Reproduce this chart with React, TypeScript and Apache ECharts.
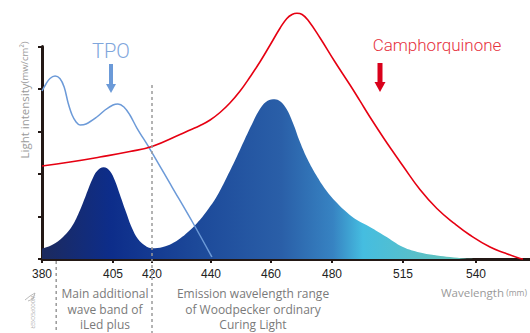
import React, { useEffect, useRef } from "react";
import * as echarts from "echarts";

// ---- data (wavelength in nm, light intensity in relative units) ----
const tickLabels = [380, 405, 420, 440, 460, 480, 515, 540];
// position of each tick label along the (non-linear) wavelength axis, axis units
const tickSlots = [0, 71, 110, 169, 229, 290, 361, 434];
const axisEnd = 488;

// LED emission spectrum (filled)
const ledWl = [380.0, 383.5, 387.4, 390.6, 393.4, 395.5, 397.6, 399.4, 401.7, 403.9, 405.8, 407.7, 410.0, 412.3, 414.6, 417.3, 420.0, 423.7, 426.8, 429.5, 432.2, 435.3, 438.6, 442.0, 445.3, 448.7, 451.3, 454.0, 456.3, 458.3, 460.7, 462.6, 464.9, 467.2, 469.5, 472.1, 474.8, 478.0, 482.5, 487.4, 492.3, 498.7, 506.1, 515.0, 520.8, 526.6, 531.1, 536.2, 540.7];
const ledVal = [0.247, 0.329, 0.518, 0.776, 1.153, 1.506, 1.859, 2.071, 2.158, 2.071, 1.835, 1.506, 1.106, 0.729, 0.471, 0.318, 0.252, 0.282, 0.365, 0.482, 0.635, 0.847, 1.129, 1.482, 1.929, 2.424, 2.824, 3.224, 3.529, 3.694, 3.758, 3.729, 3.553, 3.2, 2.753, 2.329, 1.976, 1.624, 1.318, 1.094, 0.918, 0.753, 0.541, 0.282, 0.153, 0.082, 0.047, 0.012, 0.0];

// Camphorquinone absorption (red)
const cqWl = [380.0, 389.9, 400.4, 411.5, 420.0, 429.5, 432.9, 436.3, 439.7, 443.0, 446.3, 449.7, 453.0, 456.3, 459.7, 463.0, 465.2, 466.9, 468.5, 470.2, 472.1, 476.1, 481.5, 488.9, 493.8, 498.7, 506.1, 510.6, 515.0, 520.8, 526.6, 532.8, 537.9, 544.8, 549.9, 555.1, 556.1];
const cqVal = [2.188, 2.282, 2.4, 2.529, 2.647, 2.929, 3.035, 3.141, 3.271, 3.447, 3.671, 3.953, 4.282, 4.635, 5.035, 5.435, 5.659, 5.753, 5.781, 5.753, 5.624, 5.2, 4.635, 4.094, 3.72, 3.341, 2.8, 2.49, 2.188, 1.635, 1.188, 0.824, 0.565, 0.282, 0.141, 0.012, 0.0];

// TPO absorption (light blue)
const tpoWl = [380.0, 381.4, 382.8, 384.6, 386.3, 387.8, 389.2, 390.6, 392.0, 393.4, 395.5, 399.3, 402.2, 405.0, 406.9, 409.2, 411.5, 414.2, 419.2, 426.8, 433.9, 440.3];
const tpoVal = [3.953, 4.118, 4.247, 4.306, 4.247, 4.047, 3.671, 3.388, 3.224, 3.153, 3.176, 3.341, 3.506, 3.624, 3.647, 3.576, 3.388, 3.082, 2.588, 1.694, 0.847, 0.047];

const dashedMarks = [385, 420];

function warp(w: number): number {
  const n = tickLabels.length;
  if (w <= tickLabels[0]) {
    const s = (tickSlots[1] - tickSlots[0]) / (tickLabels[1] - tickLabels[0]);
    return tickSlots[0] + (w - tickLabels[0]) * s;
  }
  for (let i = 0; i < n - 1; i++) {
    if (w <= tickLabels[i + 1]) {
      const s = (tickSlots[i + 1] - tickSlots[i]) / (tickLabels[i + 1] - tickLabels[i]);
      return tickSlots[i] + (w - tickLabels[i]) * s;
    }
  }
  const s = (tickSlots[n - 1] - tickSlots[n - 2]) / (tickLabels[n - 1] - tickLabels[n - 2]);
  return tickSlots[n - 1] + (w - tickLabels[n - 1]) * s;
}

const pts = (wl: number[], v: number[]) => wl.map((w, i) => [warp(w), v[i]]);

export default function App() {
  const ref = useRef<HTMLDivElement>(null);
  useEffect(() => {
    document.body.style.margin = "0";
    if (!ref.current) return;
    const chart = echarts.init(ref.current, undefined, { renderer: "svg" });
    const axisColor = "#231815";
    chart.setOption({
      animation: false,
      backgroundColor: "#ffffff",
      grid: { left: 42, right: 0, top: 46.5, bottom: 74 },
      xAxis: {
        type: "value",
        min: 0,
        max: axisEnd,
        axisLine: { show: true, lineStyle: { color: axisColor, width: 3 } },
        axisTick: {
          show: true,
          customValues: tickSlots,
          length: 4,
          lineStyle: { color: axisColor, width: 2 },
        },
        axisLabel: {
          customValues: tickSlots,
          color: "#222",
          fontSize: 12,
          fontFamily: "Liberation Sans",
          margin: 9,
          formatter: (v: number) => {
            const i = tickSlots.findIndex((s) => Math.abs(s - v) < 0.01);
            return i >= 0 ? String(tickLabels[i]) : "";
          },
        },
        splitLine: { show: false },
      },
      yAxis: {
        type: "value",
        min: 0,
        max: 5,
        interval: 1,
        axisLine: { show: true, lineStyle: { color: axisColor, width: 3 } },
        axisTick: { show: true, length: 4, lineStyle: { color: axisColor, width: 2 } },
        axisLabel: { show: false },
        splitLine: { show: false },
      },
      series: [
        {
          type: "line",
          data: pts(ledWl, ledVal),
          smooth: 0.4,
          symbol: "none",
          lineStyle: { width: 0 },
          areaStyle: {
            opacity: 1,
            color: {
              type: "linear",
              x: 42,
              y: 0,
              x2: 470,
              y2: 0,
              global: true,
              colorStops: [
                { offset: 0, color: "#1c2a5e" },
                { offset: 0.16, color: "#0d2d8a" },
                { offset: 0.37, color: "#1d4a9a" },
                { offset: 0.56, color: "#2a5fa8" },
                { offset: 0.68, color: "#3783c2" },
                { offset: 0.75, color: "#45bde0" },
                { offset: 0.88, color: "#5ac0c8" },
                { offset: 1, color: "#62c2b6" },
              ],
            },
          },
          z: 1,
        },
        {
          type: "line",
          data: pts(tpoWl, tpoVal),
          smooth: 0.35,
          symbol: "none",
          clip: false,
          lineStyle: { color: "#6c9ad8", width: 1.5 },
          z: 3,
        },
        {
          type: "line",
          data: pts(cqWl, cqVal),
          smooth: 0.45,
          symbol: "none",
          clip: false,
          lineStyle: { color: "#e60012", width: 1.6 },
          z: 3,
        },
      ],
    });

    const px = (w: number) => chart.convertToPixel({ xAxisIndex: 0 }, warp(w)) as number;
    const py = (v: number) => chart.convertToPixel({ yAxisIndex: 0 }, v) as number;
    const x385 = px(dashedMarks[0]);
    const x420 = px(dashedMarks[1]);
    const xTpo = px(405);
    const gray = "#7a7a7a";
    const annFont = "Open Sans";

    chart.setOption({
      graphic: [
        {
          type: "line",
          shape: { x1: x385, y1: py(0) + 2, x2: x385, y2: 333 },
          style: { stroke: "#9a9a9a", lineWidth: 1.5, lineDash: [3, 3] },
          z: 5,
        },
        {
          type: "line",
          shape: { x1: x420, y1: 85, x2: x420, y2: 333 },
          style: { stroke: "#9a9a9a", lineWidth: 1.5, lineDash: [3, 3] },
          z: 5,
        },
        {
          type: "text",
          x: xTpo - 2,
          y: 51,
          style: {
            text: "TPO",
            fontSize: 20,
            fontFamily: "Roboto",
            fontWeight: 300,
            fill: "#7fa6dc",
            align: "center",
            verticalAlign: "middle",
          },
        },
        {
          type: "rect",
          shape: { x: xTpo - 4, y: 64, width: 4, height: 22 },
          style: { fill: "#6b9ad8" },
        },
        {
          type: "polygon",
          shape: { points: [[xTpo - 7, 84], [xTpo + 3, 84], [xTpo - 2, 93]] },
          style: { fill: "#6b9ad8" },
        },
        {
          type: "text",
          x: 437,
          y: 45,
          style: {
            text: "Camphorquinone",
            fontSize: 17,
            fontFamily: "Roboto",
            fontWeight: 300,
            fill: "#e63340",
            align: "center",
            verticalAlign: "middle",
          },
        },
        {
          type: "rect",
          shape: { x: 377.5, y: 63, width: 5, height: 21 },
          style: { fill: "#d9001b" },
        },
        {
          type: "polygon",
          shape: { points: [[374.5, 82], [385.5, 82], [380, 92]] },
          style: { fill: "#d9001b" },
        },
        {
          type: "text",
          x: 24,
          y: 100,
          rotation: Math.PI / 2,
          style: {
            text: "{a|Light intensity}{b|(mw/cm²)}",
            rich: {
              a: { fontSize: 11.5, fontFamily: annFont, fill: "#9a9a9a" },
              b: { fontSize: 9.5, fontFamily: annFont, fill: "#9a9a9a" },
            },
            align: "center",
            verticalAlign: "middle",
          },
        },
        {
          type: "text",
          x: 441,
          y: 292,
          style: {
            text: "{a|Wavelength}{b| (mm)}",
            rich: {
              a: { fontSize: 11.5, fontFamily: annFont, fill: "#9a9a9a" },
              b: { fontSize: 8.5, fontFamily: annFont, fill: "#9a9a9a" },
            },
            align: "left",
            verticalAlign: "middle",
          },
        },
        {
          type: "text",
          x: 105,
          y: 309,
          style: {
            text: "Main additional\nwave band of\niLed plus",
            fontSize: 12,
            lineHeight: 15.5,
            fontFamily: annFont,
            fill: gray,
            align: "center",
            verticalAlign: "middle",
          },
        },
        {
          type: "text",
          x: 253,
          y: 309,
          style: {
            text: "Emission wavelength range\nof Woodpecker ordinary\nCuring Light",
            fontSize: 12,
            lineHeight: 15.5,
            fontFamily: annFont,
            fill: gray,
            align: "center",
            verticalAlign: "middle",
          },
        },
        {
          type: "text",
          x: 32,
          y: 312,
          rotation: -Math.PI / 2,
          style: {
            text: "WOODPECKER",
            fontSize: 4.5,
            fontFamily: "Liberation Sans",
            fill: "#aaaaaa",
            align: "center",
            verticalAlign: "middle",
          },
        },
        {
          type: "polyline",
          shape: { points: [[25, 300], [30, 296], [35, 293], [33, 299], [28, 301]] },
          style: { stroke: "#aaaaaa", lineWidth: 0.8, fill: "none" },
        },
      ],
    });
    return () => chart.dispose();
  }, []);
  return <div ref={ref} style={{ width: 530, height: 333 }} />;
}
